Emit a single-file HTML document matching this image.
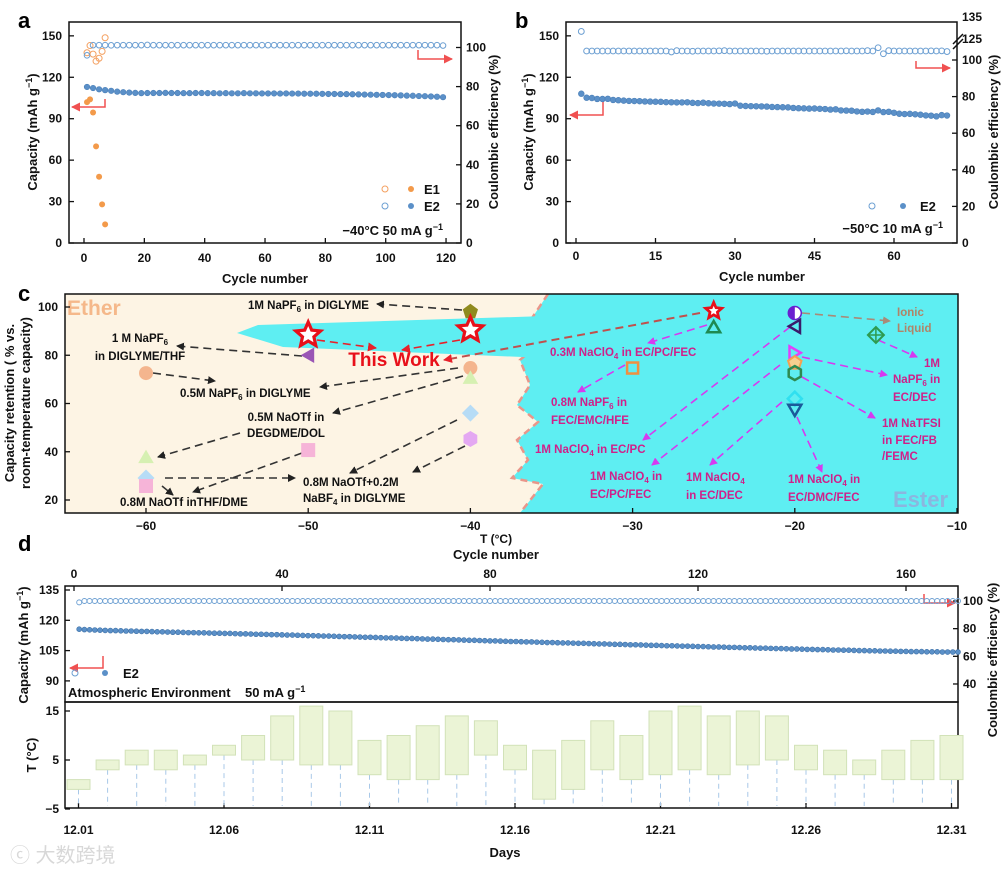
<!DOCTYPE html>
<html><head><meta charset="utf-8"><title>Electrolyte low-temperature performance</title>
<style>
html,body{margin:0;padding:0;background:#fff;}
svg{display:block;font-family:"Liberation Sans","Noto Sans CJK SC",sans-serif;font-weight:bold;}
.t{font-size:12px;fill:#111;}
.ttl{font-size:13px;fill:#111;}
.mg{font-size:11.5px;fill:#d0208a;}
.bk{font-size:11.5px;fill:#111;}
</style></head>
<body>
<svg id="fig" width="1004" height="874" viewBox="0 0 1004 874" xmlns="http://www.w3.org/2000/svg">
<defs>
<marker id="ahK" markerWidth="8" markerHeight="8" refX="7" refY="4" orient="auto" markerUnits="userSpaceOnUse"><path d="M0,0 L8,4 L0,8 Z" fill="#222"/></marker>
<marker id="ahM" markerWidth="8" markerHeight="8" refX="7" refY="4" orient="auto" markerUnits="userSpaceOnUse"><path d="M0,0 L8,4 L0,8 Z" fill="#d63af0"/></marker>
<marker id="ahR" markerWidth="9" markerHeight="9" refX="8" refY="4.5" orient="auto" markerUnits="userSpaceOnUse"><path d="M0,0 L9,4.5 L0,9 Z" fill="#e8202a"/></marker>
<marker id="ahB" markerWidth="8" markerHeight="8" refX="7" refY="4" orient="auto" markerUnits="userSpaceOnUse"><path d="M0,0 L8,4 L0,8 Z" fill="#a88a78"/></marker>
<marker id="ahA" markerWidth="9" markerHeight="9" refX="8" refY="4.5" orient="auto" markerUnits="userSpaceOnUse"><path d="M0,0 L9,4.5 L0,9 Z" fill="#f05050"/></marker>
</defs>

<text x="18" y="28" font-size="22">a</text>
<text x="515" y="28" font-size="22">b</text>
<text x="18" y="301" font-size="22">c</text>
<text x="18" y="551" font-size="22">d</text>

<g id="pa">
<rect x="69" y="22" width="392" height="221" fill="none" stroke="#111" stroke-width="1.5"/>
<text class="ttl" transform="translate(37,132) rotate(-90)" text-anchor="middle">Capacity (mAh g<tspan font-size="9" dy="-5">−1</tspan><tspan dy="5">)</tspan></text>
<text class="ttl" transform="translate(498,132) rotate(-90)" text-anchor="middle">Coulombic efficiency (%)</text>
<text class="ttl" x="265" y="283" text-anchor="middle">Cycle number</text>
<text class="ttl" x="424" y="194">E1</text>
<text class="ttl" x="424" y="211">E2</text>
<text class="ttl" x="443" y="235" text-anchor="end">−40°C  50 mA g<tspan font-size="9" dy="-5">−1</tspan></text>
<path d="M105,99 V107 H72" fill="none" stroke="#f05050" stroke-width="1.5" marker-end="url(#ahA)"/>
<path d="M418,50 V59 H452" fill="none" stroke="#f05050" stroke-width="1.5" marker-end="url(#ahA)"/>
</g>

<g id="pb">
<rect x="566" y="22" width="391" height="221" fill="none" stroke="#111" stroke-width="1.5"/>
<text class="ttl" transform="translate(533,132) rotate(-90)" text-anchor="middle">Capacity (mAh g<tspan font-size="9" dy="-5">−1</tspan><tspan dy="5">)</tspan></text>
<text class="ttl" transform="translate(998,132) rotate(-90)" text-anchor="middle">Coulombic efficiency (%)</text>
<text class="ttl" x="762" y="281" text-anchor="middle">Cycle number</text>
<text class="ttl" x="920" y="211">E2</text>
<text class="ttl" x="943" y="233" text-anchor="end">−50°C  10 mA g<tspan font-size="9" dy="-5">−1</tspan></text>
<path d="M603,100 V115 H570" fill="none" stroke="#f05050" stroke-width="1.5" marker-end="url(#ahA)"/>
<path d="M916,61 V68 H950" fill="none" stroke="#f05050" stroke-width="1.5" marker-end="url(#ahA)"/>
<path d="M953,44 L963,34 M953,49 L963,39" stroke="#111" stroke-width="1.5"/>
</g>

<g id="pc">
<rect x="65" y="294" width="893" height="219" fill="#5eeef2"/>
<polygon points="65,294 548,294 532,318 537,345 520,360 530,385 517,405 538,422 517,440 528,460 512,478 543,484 520,513 65,513" fill="#fdf4e4"/>
<polyline points="548,294 532,318 537,345 520,360 530,385 517,405 538,422 517,440 528,460 512,478 543,484 520,513" fill="none" stroke="#e9968a" stroke-width="2.5" stroke-dasharray="7,5"/>
<polygon points="237,333 258,325 546,316 546,358 283,347" fill="#5eeef2"/>
<text x="67" y="315" font-size="21" fill="#f5b88a">Ether</text>
<text x="893" y="507" font-size="22" fill="#8bb6df">Ester</text>
<text x="394" y="366" font-size="19" fill="#e8101a" text-anchor="middle">This Work</text>
<g id="carrows"></g>
<g id="cmarks"></g>
<text class="bk" x="248" y="309">1M NaPF<tspan font-size="8" dy="3">6</tspan><tspan dy="-3"> in DIGLYME</tspan></text>
<text class="bk" x="140" y="342" text-anchor="middle">1 M NaPF<tspan font-size="8" dy="3">6</tspan></text>
<text class="bk" x="140" y="360" text-anchor="middle">in DIGLYME/THF</text>
<text class="bk" x="180" y="397">0.5M NaPF<tspan font-size="8" dy="3">6</tspan><tspan dy="-3"> in DIGLYME</tspan></text>
<text class="bk" x="286" y="421" text-anchor="middle">0.5M NaOTf in</text>
<text class="bk" x="286" y="437" text-anchor="middle">DEGDME/DOL</text>
<text class="bk" x="120" y="506">0.8M NaOTf inTHF/DME</text>
<text class="bk" x="303" y="486">0.8M NaOTf+0.2M</text>
<text class="bk" x="303" y="502">NaBF<tspan font-size="8" dy="3">4</tspan><tspan dy="-3"> in DIGLYME</tspan></text>
<text class="mg" x="550" y="356">0.3M NaClO<tspan font-size="8" dy="3">4</tspan><tspan dy="-3"> in EC/PC/FEC</tspan></text>
<text class="mg" x="551" y="406">0.8M NaPF<tspan font-size="8" dy="3">6</tspan><tspan dy="-3"> in</tspan></text>
<text class="mg" x="551" y="424">FEC/EMC/HFE</text>
<text class="mg" x="535" y="453">1M NaClO<tspan font-size="8" dy="3">4</tspan><tspan dy="-3"> in EC/PC</tspan></text>
<text class="mg" x="590" y="480">1M NaClO<tspan font-size="8" dy="3">4</tspan><tspan dy="-3"> in</tspan></text>
<text class="mg" x="590" y="498">EC/PC/FEC</text>
<text class="mg" x="686" y="481">1M NaClO<tspan font-size="8" dy="3">4</tspan></text>
<text class="mg" x="686" y="499">in EC/DEC</text>
<text class="mg" x="788" y="483">1M NaClO<tspan font-size="8" dy="3">4</tspan><tspan dy="-3"> in</tspan></text>
<text class="mg" x="788" y="501">EC/DMC/FEC</text>
<text class="mg" x="940" y="367" text-anchor="end">1M</text>
<text class="mg" x="893" y="383">NaPF<tspan font-size="8" dy="3">6</tspan><tspan dy="-3"> in</tspan></text>
<text class="mg" x="893" y="401">EC/DEC</text>
<text class="mg" x="882" y="427">1M NaTFSI</text>
<text class="mg" x="882" y="444">in FEC/FB</text>
<text class="mg" x="882" y="460">/FEMC</text>
<text x="897" y="316" font-size="11.5" fill="#b08468">Ionic</text>
<text x="897" y="332" font-size="11.5" fill="#b08468">Liquid</text>
<rect x="65" y="294" width="893" height="219" fill="none" stroke="#111" stroke-width="1.5"/>
<text class="ttl" transform="translate(14,403) rotate(-90)" text-anchor="middle" font-size="12">Capacity retention ( % vs.</text>
<text class="ttl" transform="translate(30,403) rotate(-90)" text-anchor="middle" font-size="12">room-temperature capacity)</text>
<text class="t" x="496" y="543" text-anchor="middle">T (°C)</text>
</g>

<g id="pd">
<text class="ttl" x="496" y="559" text-anchor="middle">Cycle number</text>
<rect x="65" y="586" width="893" height="116" fill="none" stroke="#111" stroke-width="1.5"/>
<rect x="65" y="702" width="893" height="106" fill="none" stroke="#111" stroke-width="1.5"/>
<text class="ttl" transform="translate(28,645) rotate(-90)" text-anchor="middle">Capacity (mAh g<tspan font-size="9" dy="-5">−1</tspan><tspan dy="5">)</tspan></text>
<text class="ttl" transform="translate(997,660) rotate(-90)" text-anchor="middle">Coulombic efficiency (%)</text>
<text class="ttl" transform="translate(36,755) rotate(-90)" text-anchor="middle">T (°C)</text>
<text class="ttl" x="505" y="857" text-anchor="middle">Days</text>
<text class="ttl" x="123" y="678">E2</text>
<text x="68" y="697" font-size="13" fill="#111" xml:space="preserve">Atmospheric Environment    50 mA g<tspan font-size="9" dy="-5">−1</tspan></text>
<path d="M103,656 V668 H70" fill="none" stroke="#f05050" stroke-width="1.5" marker-end="url(#ahA)"/>
<path d="M924,594 V603 H955" fill="none" stroke="#f05050" stroke-width="1.5" marker-end="url(#ahA)"/>
</g>
<text x="10" y="862" font-size="20" fill="#d8d8d8" font-weight="normal">ⓒ 大数跨境</text>
</svg>

<script>
const aE1Cycles = [1,2,3,4,5,6,7];
const aE1Cap = [102,104,94.5,70,48,28,13.5];
const aE1CE = [97.3,101,96.6,93,94.5,98,105];
const aE2Cycles = [1,3,5,7,9,11,13,15,17,19,21,23,25,27,29,31,33,35,37,39,41,43,45,47,49,51,53,55,57,59,61,63,65,67,69,71,73,75,77,79,81,83,85,87,89,91,93,95,97,99,101,103,105,107,109,111,113,115,117,119];
const aE2Cap = [113,112.2,111.3,110.7,110.2,109.6,109.2,108.9,108.7,108.5,108.6,108.6,108.6,108.7,108.6,108.6,108.5,108.5,108.6,108.6,108.5,108.5,108.4,108.5,108.4,108.4,108.5,108.4,108.4,108.3,108.3,108.3,108.2,108.3,108.2,108.2,108.1,108.1,108.1,108.0,107.9,107.9,107.8,107.8,107.7,107.6,107.5,107.4,107.3,107.2,107.1,107.0,106.9,106.7,106.6,106.4,106.3,106.1,105.9,105.6];
const aE2CE = [96,101.2,101.2,101.2,101.1,101.2,101.2,101.2,101.2,101.2,101.3,101.2,101.2,101.2,101.2,101.2,101.2,101.2,101.2,101.2,101.2,101.2,101.2,101.2,101.2,101.2,101.2,101.2,101.2,101.2,101.2,101.2,101.2,101.2,101.2,101.2,101.2,101.2,101.2,101.2,101.2,101.2,101.2,101.2,101.2,101.2,101.2,101.2,101.2,101.2,101.2,101.2,101.2,101.2,101.2,101.2,101.2,101.2,101.2,101.0];
const aXTicks = [0,20,40,60,80,100,120];
const aYTicks = [0,30,60,90,120,150];
const aY2Ticks = [0,20,40,60,80,100];

const bCap = [108.1,105.2,105.0,104.3,104.3,104.4,103.6,103.4,103.1,102.9,102.8,102.7,102.5,102.4,102.3,102.2,102.0,101.9,101.8,101.8,101.9,101.5,101.3,101.6,101.2,101.0,100.9,100.8,100.6,101.0,99.4,99.2,99.1,99.0,98.9,98.8,98.5,98.4,98.3,98.2,97.8,97.6,97.5,97.3,97.4,97.2,97.0,96.6,96.8,96.0,95.9,95.8,95.3,95.0,95.2,94.9,96.0,94.8,95.0,94.3,93.6,93.4,93.5,93.2,92.9,92.4,92.2,91.7,92.6,92.3];
const bCE = [115.6,104.9,104.9,104.9,104.9,104.9,104.9,104.9,104.9,104.9,104.9,104.9,104.9,104.9,104.9,104.9,104.9,104.4,105.1,104.9,104.9,104.8,104.9,104.9,104.9,104.9,105.0,105.1,104.9,104.9,104.9,104.9,104.9,104.9,104.9,104.8,104.9,104.9,104.9,104.9,104.9,104.9,104.9,104.9,104.9,104.9,104.9,104.9,104.9,104.9,105.0,104.9,104.9,104.9,105.1,104.9,106.7,103.4,105.1,104.9,104.9,104.9,104.9,104.9,104.9,104.9,105.0,104.9,105.0,104.6];
const bXTicks = [0,15,30,45,60];
const bYTicks = [0,30,60,90,120,150];
const bY2Ticks = [0,20,40,60,80,100];

const cTemps = [-40,-40,-50,-50,-60,-40,-40,-40,-40,-50,-60,-60,-60,-25,-25,-30,-20,-20,-20,-20,-20,-20,-20,-15];
const cRetention = [98,90.5,88.4,80,72.6,74.7,70.6,56,45.3,40.7,37.8,29.1,25.8,98.4,91.7,74.7,97.5,92,81,76.8,72.6,62,57.3,88.4];
const cShapes = ["pentagon","starW","starW","triL","circle","circle","triU","diamond","hexagon","square","triU","diamond","square","starF","triUo","squareO","half","triLo","triRo","pentO","hexO","diamO","triDo","xdiam"];
const cColors = ["#8f8a1e","#e8101a","#e8101a","#9a55b5","#f4b58e","#f4b58e","#d6f0b2","#b6dcf6","#e4a8f2","#f6b4d8","#d6f0b2","#b6dcf6","#f6b4d8","#e8101a","#1e8a52","#f09040","#6a1fd0","#3a1a6a","#e040fb","#f4a050","#2e8a50","#30e0f0","#1a5a9a","#2e9a50"];
const cXTicks = [-60,-50,-40,-30,-20,-10];
const cYTicks = [20,40,60,80,100];

const dCap = [115.6,115.4,115.3,115.2,115.1,115.0,114.9,114.9,114.8,114.7,114.7,114.6,114.5,114.5,114.4,114.3,114.3,114.2,114.1,114.1,114.0,113.9,113.9,113.8,113.8,113.7,113.6,113.6,113.5,113.5,113.4,113.3,113.3,113.2,113.1,113.1,113.0,112.9,112.9,112.8,112.7,112.7,112.6,112.5,112.4,112.4,112.3,112.2,112.2,112.1,112.0,111.9,111.9,111.8,111.7,111.6,111.6,111.5,111.4,111.3,111.3,111.2,111.1,111.0,111.0,110.9,110.8,110.7,110.7,110.6,110.5,110.4,110.4,110.3,110.2,110.1,110.1,110.0,109.9,109.8,109.8,109.7,109.6,109.5,109.5,109.4,109.3,109.3,109.2,109.1,109.0,109.0,108.9,108.8,108.8,108.7,108.6,108.6,108.5,108.4,108.3,108.3,108.2,108.1,108.1,108.0,107.9,107.9,107.8,107.7,107.6,107.6,107.5,107.4,107.4,107.3,107.2,107.2,107.1,107.0,107.0,106.9,106.8,106.8,106.7,106.6,106.6,106.5,106.4,106.4,106.3,106.2,106.2,106.1,106.0,106.0,105.9,105.8,105.8,105.7,105.6,105.6,105.5,105.5,105.4,105.3,105.3,105.2,105.2,105.1,105.0,105.0,104.9,104.9,104.8,104.8,104.7,104.7,104.6,104.6,104.5,104.5,104.5,104.4,104.4,104.4,104.3,104.3,104.3,104.3];
const dCE = [99.0,100,100,100,100,100,100,100,100,100,100,100,100,100,100,100,100,100,100,100,100,100,100,100,100,100,100,100,100,100,100,100,100,100,100,100,100,100,100,100,100,100,100,100,100,100,100,100,100,100,100,100,100,100,100,100,100,100,100,100,100,100,100,100,100,100,100,100,100,100,100,100,100,100,100,100,100,100,100,100,100,100,100,100,100,100,100,100,100,100,100,100,100,100,100,100,100,100,100,100,100,100,100,100,100,100,100,100,100,100,100,100,100,100,100,100,100,100,100,100,100,100,100,100,100,100,100,100,100,100,100,100,100,100,100,100,100,100,100,100,100,100,100,100,100,100,100,100,100,100,100,100,100,100,100,100,100,100,100,100,100,100,100,100,100,100,100,100,100,100];
const dTopTicks = [0,40,80,120,160];
const dYTicks = [90,105,120,135];
const dY2Ticks = [40,60,80,100];
const days = [1,2,3,4,5,6,7,8,9,10,11,12,13,14,15,16,17,18,19,20,21,22,23,24,25,26,27,28,29,30,31];
const tLow = [-1,3,4,3,4,6,5,5,4,4,2,1,1,2,6,3,-3,-1,3,1,2,3,2,4,5,3,2,2,1,1,1];
const tHigh = [1,5,7,7,6,8,10,14,16,15,9,10,12,14,13,8,7,9,13,10,15,16,14,15,14,8,7,5,7,9,10];
const dayTickLabels = ["12.01","12.06","12.11","12.16","12.21","12.26","12.31"];
const dayTickValues = [1,6,11,16,21,26,31];
const tTicks = [-5,5,15];

const xa = c => 84 + c*3.017, ya = v => 243 - v*1.381, yaR = v => 243 - v*1.955;
const xb = c => 576 + c*5.3, yb = v => 243 - v*1.381, ybR = v => 243 - v*1.83;
const xc = t => 146 + (t+60)*16.22, yc = r => 307 + (100-r)*2.4125;
const xd = c => 74 + c*5.2, yd = v => 590 + (135-v)*2.02, ydR = v => 601 + (100-v)*1.383;
const xt = d => 78.5 + (d-1)*29.1, yt = v => 760 - (v-5)*4.9;

const NS = "http://www.w3.org/2000/svg";
const svg = document.getElementById("fig");
function el(tag, attrs, parent) {
  const e = document.createElementNS(NS, tag);
  for (const k in attrs) e.setAttribute(k, attrs[k]);
  (parent || svg).appendChild(e);
  return e;
}
function txt(x, y, s, anchor, size) {
  const e = el("text", {x: x, y: y, "text-anchor": anchor, "font-size": size || 12, fill: "#111"});
  e.textContent = s;
  return e;
}
function hTicks(vals, sx, y0, dir, labY, fmt) {
  vals.forEach(v => {
    const t = el("line", {x1: sx(v), x2: sx(v), y1: y0, y2: y0 + dir*5, stroke: "#111", "stroke-width": 1.3});
    
    
    const l = txt(sx(v), labY, fmt ? fmt(v) : String(v), "middle");
    
    
  });
}
function vTicks(vals, sy, x0, dir, labX, anchor, fmt) {
  vals.forEach(v => {
    const t = el("line", {x1: x0, x2: x0 + dir*5, y1: sy(v), y2: sy(v), stroke: "#111", "stroke-width": 1.3});
    
    
    const l = txt(labX, sy(v) + 4, fmt ? fmt(v) : String(v), anchor);
    
    
  });
}
const neg = v => String(v).replace("-", "−");
hTicks(aXTicks, xa, 243, -1, 262);
vTicks(aYTicks, ya, 69, 1, 62, "end");
vTicks(aY2Ticks, yaR, 461, -1, 466, "start");
hTicks(bXTicks, xb, 243, -1, 260);
vTicks(bYTicks, yb, 566, 1, 559, "end");
vTicks(bY2Ticks, ybR, 957, -1, 962, "start");
[[125,39],[135,17]].forEach(p => {
  const l = txt(962, p[1] + 4, String(p[0]), "start");
  
  
});
hTicks(cXTicks, xc, 513, -1, 530, neg);
vTicks(cYTicks, yc, 65, 1, 58, "end");
hTicks(dTopTicks, xd, 586, 1, 578);
vTicks(dYTicks, yd, 65, 1, 59, "end");
vTicks(dY2Ticks, ydR, 958, -1, 963, "start");
hTicks(dayTickValues, xt, 808, -1, 834, v => dayTickLabels[dayTickValues.indexOf(v)]);
vTicks(tTicks, yt, 65, 1, 59, "end", neg);

aE1CE.forEach((v, i) => {
  const c = el("circle", {cx: xa(aE1Cycles[i]), cy: yaR(v), r: 3, fill: "none", stroke: "#f4a060", "stroke-width": 1});
  
  
});
aE2CE.forEach((v, i) => {
  const c = el("circle", {cx: xa(aE2Cycles[i]), cy: yaR(v), r: 2.8, fill: "none", stroke: "#6c9fd2", "stroke-width": 1});
  
  
});
aE2Cap.forEach((v, i) => {
  const c = el("circle", {cx: xa(aE2Cycles[i]), cy: ya(v), r: 2.8, fill: "#5b90c8", stroke: "#4a7fb8", "stroke-width": 0.6});
  
  
});
aE1Cap.forEach((v, i) => {
  const c = el("circle", {cx: xa(aE1Cycles[i]), cy: ya(v), r: 3, fill: "#f39a4a"});
  
  
});
[[385,189,"none","#f4a060"],[411,189,"#f39a4a","none"],[385,206,"none","#6c9fd2"],[411,206,"#5b90c8","none"]].forEach(p => {
  const c = el("circle", {cx: p[0], cy: p[1], r: 3, fill: p[2], stroke: p[3], "stroke-width": 1});
  
  
});

bCE.forEach((v, i) => {
  const c = el("circle", {cx: xb(i+1), cy: ybR(v), r: 2.9, fill: "none", stroke: "#6c9fd2", "stroke-width": 1});
  
  
});
bCap.forEach((v, i) => {
  const c = el("circle", {cx: xb(i+1), cy: yb(v), r: 2.9, fill: "#5b90c8", stroke: "#4a7fb8", "stroke-width": 0.6});
  
  
});
[[872,206,"none","#6c9fd2"],[903,206,"#5b90c8","none"]].forEach(p => {
  const c = el("circle", {cx: p[0], cy: p[1], r: 3, fill: p[2], stroke: p[3], "stroke-width": 1});
  
  
});

const ga = document.getElementById("carrows");
const arrows = [
 [462,310,377,304,"k"],[302,356,177,346,"k"],[153,373,215,381,"k"],[458,368,320,387,"k"],
 [463,376,333,413,"k"],[457,420,350,473,"k"],[465,446,413,472,"k"],[302,453,193,492,"k"],
 [240,433,158,457,"k"],[165,478,295,478,"k"],[162,486,173,495,"k"],
 [317,340,376,348,"r"],[460,340,402,350,"r"],[700,313,444,360,"rb"],
 [707,325,648,343,"m"],[625,365,578,392,"m"],[790,327,643,440,"m"],[780,365,652,465,"m"],
 [782,402,710,465,"m"],[797,417,822,472,"m"],[802,377,875,418,"m"],[802,357,887,375,"m"],
 [878,340,917,357,"m"],[802,313,890,321,"b"]
];
arrows.forEach(a => {
  const col = {k:"#333", r:"#e8202a", rb:"#c0504d", m:"#d63af0", b:"#a88a78"}[a[4]];
  const mk = {k:"ahK", r:"ahR", rb:"ahR", m:"ahM", b:"ahB"}[a[4]];
  const l = el("line", {x1:a[0], y1:a[1], x2:a[2], y2:a[3], stroke: col, "stroke-width": a[4]==="rb"?2:1.6, "stroke-dasharray": "8,5", "marker-end": "url(#"+mk+")"}, ga);
  
  
});

const gm = document.getElementById("cmarks");
function poly(n, cx, cy, r, rot) {
  const p = [];
  for (let i = 0; i < n; i++) { const a = rot + i*2*Math.PI/n; p.push((cx + r*Math.cos(a)).toFixed(1) + "," + (cy + r*Math.sin(a)).toFixed(1)); }
  return p.join(" ");
}
function star(cx, cy, R, r) {
  const p = [];
  for (let i = 0; i < 10; i++) { const a = -Math.PI/2 + i*Math.PI/5, rr = i%2 ? r : R; p.push((cx + rr*Math.cos(a)).toFixed(1) + "," + (cy + rr*Math.sin(a)).toFixed(1)); }
  return p.join(" ");
}
cTemps.forEach((t, i) => {
  const x = xc(t), y = yc(cRetention[i]), col = cColors[i], s = cShapes[i];
  const g = el("g", {}, gm);
  
  
  const o = {fill: "none", stroke: col, "stroke-width": 2.5};
  const f = {fill: col, stroke: "none"};
  if (s === "circle") el("circle", Object.assign({cx:x, cy:y, r:7}, f), g);
  else if (s === "square") el("rect", Object.assign({x:x-7, y:y-7, width:14, height:14}, f), g);
  else if (s === "squareO") el("rect", Object.assign({x:x-5.5, y:y-5.5, width:11, height:11}, o), g);
  else if (s === "triU") el("polygon", Object.assign({points: poly(3,x,y+1.5,9,-Math.PI/2)}, f), g);
  else if (s === "triUo") el("polygon", Object.assign({points: poly(3,x,y+1.5,7.5,-Math.PI/2)}, o), g);
  else if (s === "triDo") el("polygon", Object.assign({points: poly(3,x,y-1.5,7.5,Math.PI/2)}, o), g);
  else if (s === "triL") el("polygon", Object.assign({points: poly(3,x+1.5,y,9,Math.PI)}, f), g);
  else if (s === "triLo") el("polygon", Object.assign({points: poly(3,x+1.5,y,7.5,Math.PI)}, o), g);
  else if (s === "triRo") el("polygon", Object.assign({points: poly(3,x-1.5,y,7.5,0)}, o), g);
  else if (s === "diamond") el("polygon", Object.assign({points: poly(4,x,y,8.5,0)}, f), g);
  else if (s === "diamO") el("polygon", Object.assign({points: poly(4,x,y,7,0)}, o), g);
  else if (s === "pentagon") el("polygon", Object.assign({points: poly(5,x,y,8,-Math.PI/2)}, f), g);
  else if (s === "pentO") el("polygon", Object.assign({points: poly(5,x,y,7,-Math.PI/2), fill:"#f8d090", stroke: col, "stroke-width": 2}), g);
  else if (s === "hexagon") el("polygon", Object.assign({points: poly(6,x,y,8,Math.PI/6)}, f), g);
  else if (s === "hexO") el("polygon", Object.assign({points: poly(6,x,y,7,Math.PI/6)}, o), g);
  else if (s === "starW") el("polygon", {points: star(x,y,13,6), fill:"#fff", stroke: col, "stroke-width": 3.2}, g);
  else if (s === "starF") { el("polygon", {points: star(x,y,12,5.5), fill: col}, g); el("polygon", {points: star(x,y,5,2.3), fill:"#fff"}, g); }
  else if (s === "half") { el("circle", {cx:x, cy:y, r:6.5, fill:"#fff", stroke: col, "stroke-width": 1.5}, g); el("path", {d:"M"+x+","+(y-6.5)+" A6.5,6.5 0 0,0 "+x+","+(y+6.5)+" Z", fill: col}, g); }
  else if (s === "xdiam") { el("polygon", Object.assign({points: poly(4,x,y,8,0)}, {fill:"none", stroke: col, "stroke-width": 2}), g); el("path", {d:"M"+(x-8)+","+y+" H"+(x+8)+" M"+x+","+(y-8)+" V"+(y+8), stroke: col, "stroke-width": 1.5}, g); }
});

dCE.forEach((v, i) => {
  const c = el("circle", {cx: xd(i+1), cy: ydR(v), r: 2.5, fill: "none", stroke: "#6c9fd2", "stroke-width": 0.9});
  
  
});
dCap.forEach((v, i) => {
  const c = el("circle", {cx: xd(i+1), cy: yd(v), r: 2.5, fill: "#5b90c8", stroke: "#3f72a8", "stroke-width": 0.6});
  
  
});
[[75,673,"none","#6c9fd2"],[105,673,"#5b90c8","none"]].forEach(p => {
  const c = el("circle", {cx: p[0], cy: p[1], r: 3, fill: p[2], stroke: p[3], "stroke-width": 1});
  
  
});
days.forEach((d, i) => {
  const x = xt(d);
  const dl = el("line", {x1: x, x2: x, y1: yt(tLow[i]), y2: 806, stroke: "#a8c8e8", "stroke-width": 1, "stroke-dasharray": "5,4"});
  
  
  const b = el("rect", {x: x - 11.5, y: yt(tHigh[i]), width: 23, height: yt(tLow[i]) - yt(tHigh[i]), fill: "#ebf4d6", stroke: "#d2e2b8", "stroke-width": 1});
  
  
});
</script>
</body></html>
